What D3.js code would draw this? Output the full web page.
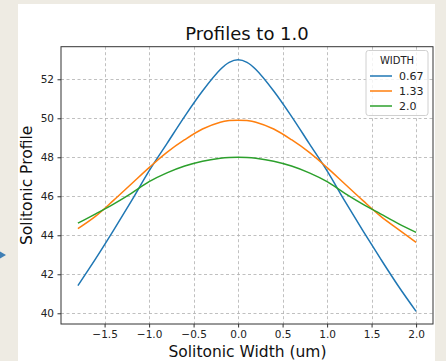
<!DOCTYPE html>
<html><head><meta charset="utf-8">
<script src="https://cdn.jsdelivr.net/npm/d3@7"></script>
<style>html,body{margin:0;padding:0;background:#eeebe3;}svg{display:block;}</style>
</head><body>
<svg id="c" width="446" height="361"></svg>
<script>
const xs = [-1.8,-1.6,-1.4,-1.2,-1.0,-0.8,-0.6,-0.4,-0.2,-0.1,0.0,0.1,0.2,0.4,0.6,0.8,1.0,1.2,1.4,1.6,1.8,2.0];
const width067 = [41.42,42.8,44.25,45.75,47.3,48.7,50.1,51.4,52.5,52.87,53.0,52.87,52.5,51.4,50.1,48.7,47.3,45.75,44.25,42.8,41.4,40.1];
const width133 = [44.34,44.98,45.79,46.63,47.47,48.25,48.9,49.45,49.8,49.88,49.9,49.88,49.8,49.45,48.9,48.25,47.47,46.63,45.79,44.98,44.3,43.64];
const width20  = [44.62,45.1,45.6,46.15,46.75,47.2,47.55,47.8,47.95,47.99,48.0,47.99,47.95,47.8,47.55,47.2,46.75,46.15,45.6,45.1,44.6,44.15];
const seriesNames = ["0.67","1.33","2.0"];
const seriesColors = ["#1f77b4","#ff7f0e","#2ca02c"];
const xTicks = [-1.5,-1.0,-0.5,0.0,0.5,1.0,1.5,2.0];
const yTicks = [40,42,44,46,48,50,52];
const titleText = "Profiles to 1.0";
const xLabel = "Solitonic Width (um)";
const yLabel = "Solitonic Profile";
const legendTitle = "WIDTH";

const svg = d3.select("#c");
const font = "DejaVu Sans, sans-serif";
svg.append("rect").attr("x",0).attr("y",0).attr("width",446).attr("height",361).attr("fill","#eeebe3");
svg.append("rect").attr("x",18).attr("y",4).attr("width",417).attr("height",357).attr("fill","#ffffff");
svg.append("path").attr("d","M0,251.5 L6,255 L0,258.5 Z").attr("fill","#3f7fb5");

const L=61, R=433, T=46.7, B=324;
const x = d3.scaleLinear().domain([-1.99,2.19]).range([L,R]);
const y = d3.scaleLinear().domain([39.45,53.67]).range([B,T]);
const fmt = d => (d<0?"\u2212":"") + Math.abs(d).toFixed(1);

const g = svg.append("g");
g.selectAll("line.vx").data(xTicks).join("line")
 .attr("x1",d=>Math.round(x(d))+0.5).attr("x2",d=>Math.round(x(d))+0.5).attr("y1",T).attr("y2",B)
 .attr("stroke","#b0b0b0").attr("stroke-width",0.8).attr("stroke-dasharray","3,2.5");
g.selectAll("line.hy").data(yTicks).join("line")
 .attr("y1",d=>Math.round(y(d))+0.5).attr("y2",d=>Math.round(y(d))+0.5).attr("x1",L).attr("x2",R)
 .attr("stroke","#b0b0b0").attr("stroke-width",0.8).attr("stroke-dasharray","3,2.5");

const xa = svg.append("g").attr("transform",`translate(0,${B})`)
 .call(d3.axisBottom(x).tickValues(xTicks).tickFormat(fmt).tickSize(3.5).tickPadding(3.5));
const ya = svg.append("g").attr("transform",`translate(${L},0)`)
 .call(d3.axisLeft(y).tickValues(yTicks).tickFormat(d3.format("d")).tickSize(3.5).tickPadding(3.5));
[xa,ya].forEach(a=>{a.select(".domain").remove();
 a.selectAll("text").attr("font-family",font).attr("font-size",10.5).attr("fill","#222");
 a.selectAll("line").attr("stroke","#333");});

const data = [width067,width133,width20];
const line = d3.line().x((d,i)=>x(xs[i])).y(d=>y(d)).curve(d3.curveCatmullRom.alpha(0.5));
svg.append("g").selectAll("path").data(data).join("path")
 .attr("d",line).attr("fill","none").attr("stroke",(d,i)=>seriesColors[i]).attr("stroke-width",1.5);

svg.append("rect").attr("x",L).attr("y",T).attr("width",R-L).attr("height",B-T)
 .attr("fill","none").attr("stroke","#333").attr("stroke-width",1);

svg.append("text").attr("x",(L+R)/2).attr("y",40).attr("text-anchor","middle")
 .attr("font-family",font).attr("font-size",18).attr("fill","#111").text(titleText);
svg.append("text").attr("x",(L+R)/2+13/ 2 - 6).attr("y",357).attr("text-anchor","middle")
 .attr("font-family",font).attr("font-size",15.5).attr("fill","#111").text(xLabel);
svg.append("text").attr("transform",`translate(32,${(T+B)/2}) rotate(-90)`).attr("text-anchor","middle")
 .attr("font-family",font).attr("font-size",15.5).attr("fill","#111").text(yLabel);

const lg = svg.append("g");
lg.append("rect").attr("x",366).attr("y",50.5).attr("width",62).attr("height",65).attr("rx",2.5)
 .attr("fill","#fff").attr("fill-opacity",0.8).attr("stroke","#d0d0d0").attr("stroke-width",1);
lg.append("text").attr("x",397).attr("y",64).attr("text-anchor","middle")
 .attr("font-family",font).attr("font-size",10).attr("fill","#222").text(legendTitle);
seriesNames.forEach((n,i)=>{
  const yy = 76 + i*15;
  lg.append("line").attr("x1",370).attr("x2",392).attr("y1",yy).attr("y2",yy)
    .attr("stroke",seriesColors[i]).attr("stroke-width",1.5);
  lg.append("text").attr("x",399).attr("y",yy+4).attr("font-family",font).attr("font-size",11)
    .attr("fill","#222").text(n);
});
</script>
</body></html>
